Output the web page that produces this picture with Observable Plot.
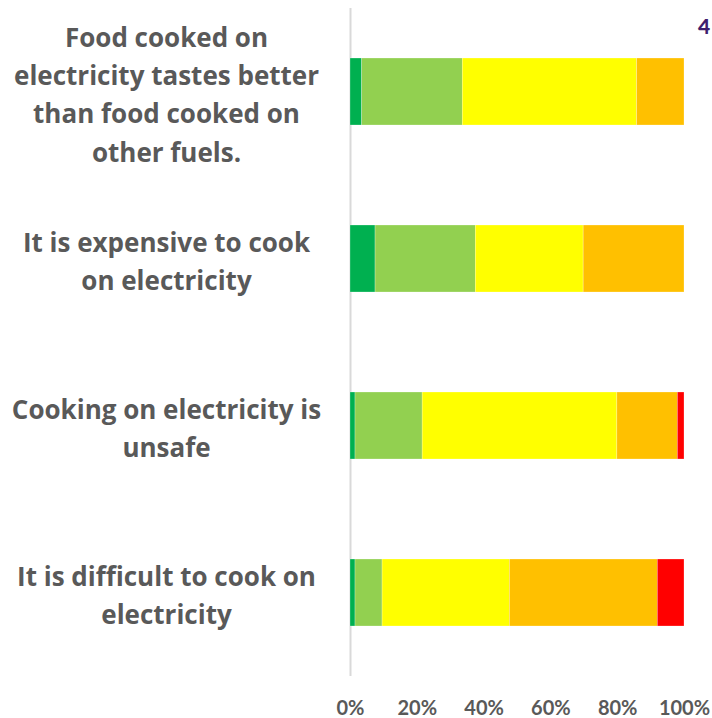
<!DOCTYPE html>
<html>
<head>
<meta charset="utf-8">
<script src="https://cdn.jsdelivr.net/npm/d3@7"></script>
<script src="https://cdn.jsdelivr.net/npm/@observablehq/plot@0.6"></script>
<style>
  html, body { margin: 0; padding: 0; background: #fff; overflow: hidden; width: 712px; height: 718px; }
  #wrap { position: relative; width: 712px; height: 718px; }
  #corner { position: absolute; left: 698px; top: 13px; font-family: Lato, sans-serif; font-weight: 900; font-size: 21px; line-height: 26px; color: #3F1F6E; white-space: nowrap; }
</style>
</head>
<body>
<div id="wrap"><div id="corner">4</div></div>
<script>
const categories = [
  "Food cooked on\nelectricity tastes better\nthan food cooked on\nother fuels.",
  "It is expensive to cook\non electricity",
  "Cooking on electricity is\nunsafe",
  "It is difficult to cook on\nelectricity"
];
const levels = ["Strongly agree", "Agree", "Neutral", "Disagree", "Strongly disagree"];
const levelColors = ["#00B050", "#92D050", "#FFFF00", "#FFC000", "#FF0000"];
const stronglyAgree    = [3.5, 7.5, 1.5, 1.5];
const agree            = [30.1, 30.0, 20.1, 8.1];
const neutral          = [52.2, 32.3, 58.3, 38.1];
const disagree         = [14.2, 30.2, 18.1, 44.3];
const stronglyDisagree = [0, 0, 2.0, 8.0];
const xTicks = [0, 20, 40, 60, 80, 100];

const series = [stronglyAgree, agree, neutral, disagree, stronglyDisagree];
const data = [];
categories.forEach((c, i) => {
  levels.forEach((l, j) => data.push({category: c, level: l, value: series[j][i]}));
});

const chart = Plot.plot({
  width: 712,
  height: 718,
  marginLeft: 350,
  marginRight: 28,
  marginTop: 8,
  marginBottom: 42,
  style: {background: "transparent"},
  x: {domain: [0, 100], ticks: xTicks, tickFormat: d => d + "%"},
  y: {domain: categories, paddingInner: 0.6, paddingOuter: 0.3},
  color: {domain: levels, range: levelColors},
  marks: [
    Plot.ruleX([0], {stroke: "#d9d9d9", strokeWidth: 2}),
    Plot.barX(data, Plot.stackX({
      x: "value", y: "category", fill: "level", order: levels,
      stroke: "#ffffff", strokeOpacity: 0.5, strokeWidth: 0.5
    })),
    Plot.axisX({
      ticks: xTicks, tickSize: 0, tickPadding: 24, label: null,
      tickFormat: d => d + "%",
      fontSize: 20, fontWeight: "bold", fill: "#595959",
      fontFamily: "Lato, sans-serif"
    }),
    Plot.axisY({
      tickSize: 0, tickPadding: 0, label: null, textAnchor: "middle",
      dx: -184, lineHeight: 1.47, fontSize: 26, fontWeight: "bold",
      fill: "#595959", fontFamily: "'Open Sans', sans-serif"
    })
  ]
});
document.getElementById("wrap").prepend(chart);
</script>
</body>
</html>
